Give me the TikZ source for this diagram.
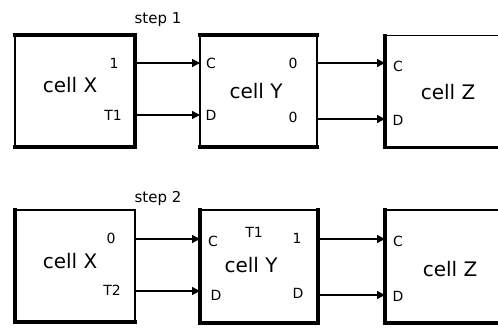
\documentclass[tikz,border=0pt]{standalone}
\usepackage{fontspec}
\setmainfont{DejaVu Sans}
\usetikzlibrary{arrows.meta}
\begin{document}
\begin{tikzpicture}[x=1pt,y=-1pt,
  cellbox/.style={draw, line width=1.4pt, inner sep=0pt, outer sep=0pt, rectangle},
  heavy/.style={line width=3.6pt, line cap=rect},
  wire/.style={line width=1.4pt, -{Triangle[length=8pt,width=8pt]}},
  celltext/.style={font=\fontsize{20}{20}\selectfont, inner sep=0pt},
  port/.style={font=\fontsize{14}{14}\selectfont, inner sep=0pt},
  steptext/.style={font=\fontsize{15}{15}\selectfont, inner sep=0pt}]
\useasboundingbox (0,0) rectangle (498,327);
\clip (0,0) rectangle (498,327);

% ---- step 1 ----
\node[steptext] (s1) at (158,20) {step 1};
\node[cellbox, minimum width=120pt, minimum height=112pt] (X1) at (75,91) {};
\node[cellbox, minimum width=117pt, minimum height=112pt] (Y1) at (258.5,91) {};
\node[cellbox, minimum width=140pt, minimum height=112pt] (Z1) at (455,91.5) {};
\draw[heavy] (X1.north west) -- (X1.north east) -- (X1.south east) -- (X1.south west);
\draw[heavy] (Y1.north west) -- (Y1.north east);
\draw[heavy] (Y1.south west) -- (Y1.south east);
\draw[heavy] (Z1.north west) -- (Z1.south west) -- (Z1.south east);

\node[celltext] (X1t) at (70,85) {cell X};
\node[port] (X1a) at (114,63) {1};
\node[port] (X1b) at (113,115) {T1};
\node[celltext] (Y1t) at (256,91) {cell Y};
\node[port] (Y1c) at (211,63) {C};
\node[port] (Y1d) at (211,115) {D};
\node[port] (Y1a) at (293,63) {0};
\node[port] (Y1b) at (293,117) {0};
\node[celltext] (Z1t) at (448,92) {cell Z};
\node[port] (Z1c) at (398,66) {C};
\node[port] (Z1d) at (398,120) {D};

\draw[wire] (X1.east |- 0,63) -- (Y1.west |- 0,63);
\draw[wire] (X1.east |- 0,115) -- (Y1.west |- 0,115);
\draw[wire] (Y1.east |- 0,63) -- (Z1.west |- 0,63);
\draw[wire] (Y1.east |- 0,119) -- (Z1.west |- 0,119);

% ---- step 2 ----
\node[steptext] (s2) at (158,198) {step 2};
\node[cellbox, minimum width=120pt, minimum height=112pt] (X2) at (75,266) {};
\node[cellbox, minimum width=118pt, minimum height=113pt] (Y2) at (259,266.5) {};
\node[cellbox, minimum width=140pt, minimum height=113pt] (Z2) at (455,266.5) {};
\draw[heavy] (X2.north west) -- (X2.south west) -- (X2.south east);
\draw[heavy] (Y2.north west) -- (Y2.south west) -- (Y2.south east) -- (Y2.north east);
\draw[heavy] (Z2.north west) -- (Z2.south west) -- (Z2.south east);

\node[celltext] (X2t) at (70,261) {cell X};
\node[port] (X2a) at (111,238) {0};
\node[port] (X2b) at (112,290) {T2};
\node[celltext] (Y2t) at (251,265) {cell Y};
\node[port] (Y2e) at (254,232) {T1};
\node[port] (Y2c) at (213,241) {C};
\node[port] (Y2d) at (216,295) {D};
\node[port] (Y2a) at (297,238) {1};
\node[port] (Y2b) at (298,293) {D};
\node[celltext] (Z2t) at (450,269) {cell Z};
\node[port] (Z2c) at (398,241) {C};
\node[port] (Z2d) at (398,296) {D};

\draw[wire] (X2.east |- 0,239) -- (Y2.west |- 0,239);
\draw[wire] (X2.east |- 0,291) -- (Y2.west |- 0,291);
\draw[wire] (Y2.east |- 0,239) -- (Z2.west |- 0,239);
\draw[wire] (Y2.east |- 0,295) -- (Z2.west |- 0,295);
\end{tikzpicture}
\end{document}
